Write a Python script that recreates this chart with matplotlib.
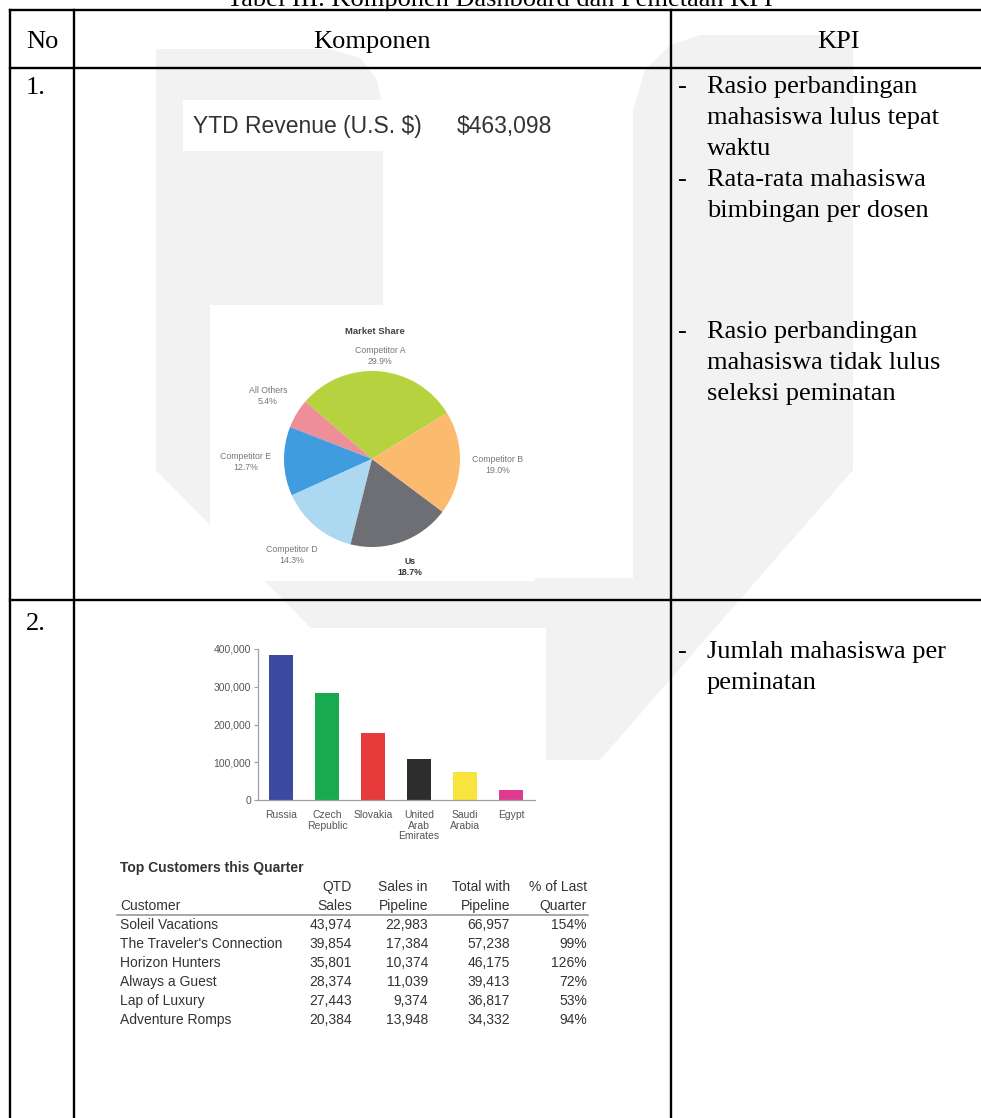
import numpy as np
import matplotlib.pyplot as plt
from matplotlib.patches import Rectangle, Polygon

W, H = 981, 1118

# ---- document table text ----
caption = 'Tabel III. Komponen Dashboard dan Pemetaan KPI'
headers = ['No', 'Komponen', 'KPI']
row_numbers = ['1.', '2.']
kpi_row1 = [['Rasio perbandingan', 'mahasiswa lulus tepat', 'waktu'],
            ['Rata-rata mahasiswa', 'bimbingan per dosen'],
            ['Rasio perbandingan', 'mahasiswa tidak lulus', 'seleksi peminatan']]
kpi_row2 = [['Jumlah mahasiswa per', 'peminatan']]

# ---- component 1: revenue + pie ----
ytd_label = 'YTD Revenue (U.S. $)'
ytd_value = 463098

pie_title = 'Market Share'
pie_labels = ['Competitor A', 'All Others', 'Competitor E', 'Competitor D', 'Us', 'Competitor B']
pie_shares = [29.9, 5.4, 12.7, 14.3, 18.7, 19.0]
pie_colors = ['#b6d33f', '#ee8e98', '#3f9ddf', '#acd9f1', '#6e6f74', '#fbba6e']

# ---- component 2: bar chart + customer table ----
countries = ['Russia', 'Czech\nRepublic', 'Slovakia', 'United\nArab\nEmirates', 'Saudi\nArabia', 'Egypt']
country_sales = [385000, 283000, 178000, 108000, 73000, 27000]
bar_colors = ['#3b4a9e', '#19a94f', '#e63a3b', '#2d2d2d', '#f8e43c', '#df3a90']

table_title = 'Top Customers this Quarter'
head_top = ['', 'QTD', 'Sales in', 'Total with', '% of Last']
head_bottom = ['Customer', 'Sales', 'Pipeline', 'Pipeline', 'Quarter']
customers = ['Soleil Vacations', "The Traveler's Connection", 'Horizon Hunters',
             'Always a Guest', 'Lap of Luxury', 'Adventure Romps']
qtd_sales = [43974, 39854, 35801, 28374, 27443, 20384]
pipeline = [22983, 17384, 10374, 11039, 9374, 13948]
total_pipeline = [66957, 57238, 46175, 39413, 36817, 34332]
pct_last = [154, 99, 126, 72, 53, 94]

serif = 'Liberation Serif'
sans = 'Liberation Sans'
narrow = ['Liberation Sans Narrow', 'Liberation Sans']

fig = plt.figure(figsize=(W / 100, H / 100), dpi=100)


def px_axes(x0, y0, x1, y1):
    return fig.add_axes([x0 / W, 1 - y1 / H, (x1 - x0) / W, (y1 - y0) / H])


ax = fig.add_axes([0, 0, 1, 1])
ax.set_xlim(0, W)
ax.set_ylim(H, 0)
ax.axis('off')

# faint watermark behind the table
wm = '#f2f2f2'
ax.add_patch(Polygon([(156, 49), (330, 49), (360, 58), (377, 80), (383, 110),
                      (383, 578), (633, 578), (633, 110), (645, 70), (670, 45),
                      (700, 35), (853, 35), (853, 470), (600, 760), (440, 760),
                      (156, 470)], closed=True, fc=wm, ec='none', zorder=0))

# white "screenshot" boxes
for x0, y0, x1, y1 in [(183, 100, 383, 151), (210, 305, 535, 581), (206, 628, 546, 1060)]:
    ax.add_patch(Rectangle((x0, y0), x1 - x0, y1 - y0, fc='white', ec='none', zorder=1))

# table grid
lw = 1.7
for y in [10, 68, 600]:
    ax.plot([10, W], [y, y], color='black', lw=lw, zorder=3)
for x in [10, 74, 671]:
    ax.plot([x, x], [10, H], color='black', lw=lw, zorder=3)

fs = 19
ax.text(500, 6, caption, family=serif, fontsize=fs, ha='center', va='baseline')
ax.text(26, 48, headers[0], family=serif, fontsize=fs, va='baseline')
ax.text(372, 48, headers[1], family=serif, fontsize=fs, ha='center', va='baseline')
ax.text(838, 48, headers[2], family=serif, fontsize=fs, ha='center', va='baseline')
ax.text(26, 94, row_numbers[0], family=serif, fontsize=fs, va='baseline')
ax.text(26, 630, row_numbers[1], family=serif, fontsize=fs, va='baseline')

step = 31
for block, y_start in zip(kpi_row1, [93, 186, 338]):
    for i, line in enumerate(block):
        if i == 0:
            ax.text(678, y_start, '-', family=serif, fontsize=fs, va='baseline')
        ax.text(707, y_start + i * step, line, family=serif, fontsize=fs, va='baseline')
for block, y_start in zip(kpi_row2, [658]):
    for i, line in enumerate(block):
        if i == 0:
            ax.text(678, y_start, '-', family=serif, fontsize=fs, va='baseline')
        ax.text(707, y_start + i * step, line, family=serif, fontsize=fs, va='baseline')

# YTD revenue
ax.text(193, 133, ytd_label, family=sans, fontsize=16.5, color='#333333', va='baseline', zorder=2)
ax.text(457, 133, f'${ytd_value:,}', family=sans, fontsize=16.5, color='#333333', va='baseline', zorder=2)

# pie chart
r = 88
cx, cy = 372, 459
pax = px_axes(cx - r, cy - r, cx + r, cy + r)
wedges, _ = pax.pie(pie_shares, colors=pie_colors, startangle=31.6, counterclock=True,
                    wedgeprops=dict(linewidth=0))
pax.set_xlim(-1, 1)
pax.set_ylim(-1, 1)
pax.axis('off')
label_dist = [1.17, 1.38, 1.44, 1.42, 1.3, 1.43]
for w, lab, val, d in zip(wedges, pie_labels, pie_shares, label_dist):
    ang = np.deg2rad((w.theta1 + w.theta2) / 2)
    x = cx + d * r * np.cos(ang)
    y = cy - d * r * np.sin(ang)
    bold = lab == 'Us'
    ax.text(x, y, f'{lab}\n{val:.1f}%', family=sans, fontsize=6.3, ha='center', va='center',
            color='#333333' if bold else '#777777', fontweight='bold' if bold else 'normal',
            linespacing=1.3, zorder=2)
ax.text(375, 332, pie_title, family=sans, fontsize=6.8, fontweight='bold', color='#444444',
        ha='center', va='center', zorder=2)

# bar chart
bax = px_axes(258, 649, 535, 800)
xs = np.arange(len(countries))
bax.bar(xs, country_sales, width=0.52, color=bar_colors)
bax.set_xlim(-0.5, 5.52)
bax.set_ylim(0, 400000)
bax.set_yticks([0, 100000, 200000, 300000, 400000])
bax.set_yticklabels([f'{v:,}' for v in [0, 100000, 200000, 300000, 400000]])
bax.set_xticks(xs)
bax.set_xticklabels(countries)
for s in ['top', 'right']:
    bax.spines[s].set_visible(False)
for s in ['left', 'bottom']:
    bax.spines[s].set_color('#a0a0a0')
    bax.spines[s].set_linewidth(0.9)
bax.tick_params(axis='y', length=3, color='#a0a0a0', pad=2, labelsize=7.5, labelcolor='#555555')
bax.tick_params(axis='x', length=0, pad=7, labelsize=7.5, labelcolor='#555555')
for t in bax.get_xticklabels() + bax.get_yticklabels():
    t.set_family(narrow)
for t in bax.get_xticklabels():
    t.set_linespacing(1.1)
bax.patch.set_alpha(0)

# customer table
tc = '#333333'
tfs = 10
ax.text(120, 872, table_title, family=sans, fontsize=tfs, fontweight='bold', color=tc, va='baseline', zorder=2)
col_x = [120, 352, 428, 510, 587]
for j, x in enumerate(col_x):
    ha = 'left' if j == 0 else 'right'
    ax.text(x, 891, head_top[j], family=sans, fontsize=tfs, color=tc, ha=ha, va='baseline', zorder=2)
    ax.text(x, 910, head_bottom[j], family=sans, fontsize=tfs, color=tc, ha=ha, va='baseline', zorder=2)
ax.plot([117, 588], [915, 915], color='#9a9a9a', lw=1.2, zorder=2)
for i in range(len(customers)):
    y = 929 + i * 19
    vals = [customers[i], f'{qtd_sales[i]:,}', f'{pipeline[i]:,}', f'{total_pipeline[i]:,}', f'{pct_last[i]}%']
    for j, x in enumerate(col_x):
        ax.text(x, y, vals[j], family=sans, fontsize=tfs, color=tc,
                ha='left' if j == 0 else 'right', va='baseline', zorder=2)

fig.savefig('out.png', dpi=100)
